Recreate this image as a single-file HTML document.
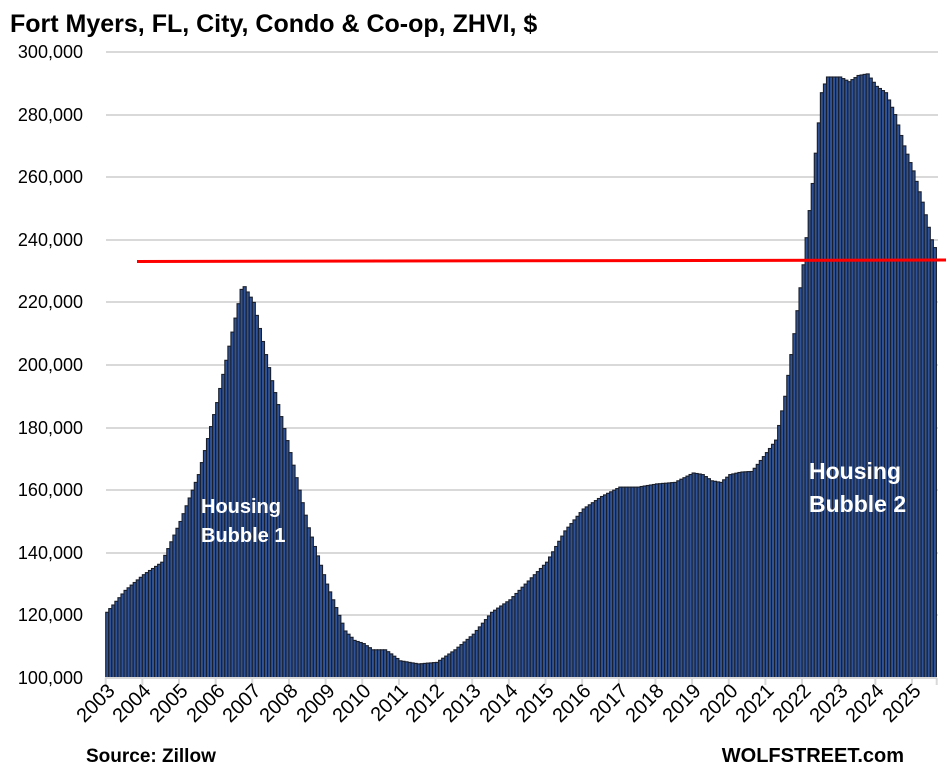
<!DOCTYPE html>
<html><head><meta charset="utf-8"><style>
html,body{margin:0;padding:0;background:#fff;}
svg{display:block;font-family:"Liberation Sans",Arial,sans-serif;}
</style></head><body>
<svg id="c" width="946" height="770" viewBox="0 0 946 770" xmlns="http://www.w3.org/2000/svg">
<rect width="946" height="770" fill="#fff"/>
<text x="10" y="32" font-size="25" font-weight="bold" fill="#000">Fort Myers, FL, City, Condo &amp; Co-op, ZHVI, $</text>
<g stroke="#d9d9d9" stroke-width="2">
<line x1="106" x2="938" y1="52" y2="52"/><line x1="106" x2="938" y1="115" y2="115"/>
<line x1="106" x2="938" y1="177" y2="177"/><line x1="106" x2="938" y1="240" y2="240"/>
<line x1="106" x2="938" y1="302" y2="302"/><line x1="106" x2="938" y1="365" y2="365"/>
<line x1="106" x2="938" y1="428" y2="428"/><line x1="106" x2="938" y1="490" y2="490"/>
<line x1="106" x2="938" y1="553" y2="553"/><line x1="106" x2="938" y1="615" y2="615"/>
</g>
<g font-size="18" text-anchor="end" fill="#000">
<text x="83" y="58">300,000</text><text x="83" y="121">280,000</text><text x="83" y="183">260,000</text>
<text x="83" y="246">240,000</text><text x="83" y="308">220,000</text><text x="83" y="371">200,000</text>
<text x="83" y="434">180,000</text><text x="83" y="496">160,000</text><text x="83" y="559">140,000</text>
<text x="83" y="621">120,000</text><text x="83" y="684">100,000</text>
</g>
<g id="bars"></g>
<line x1="105" x2="937" y1="678" y2="678" stroke="#d9d9d9" stroke-width="2"/>
<g id="ticks" stroke="#d9d9d9" stroke-width="2"></g>
<line x1="137" y1="261.5" x2="946" y2="260" stroke="#ff0000" stroke-width="3"/>
<g font-size="20" fill="#000" text-anchor="end">
<text transform="translate(116,692) rotate(-45)">2003</text>
<text transform="translate(152,692) rotate(-45)">2004</text>
<text transform="translate(189,692) rotate(-45)">2005</text>
<text transform="translate(226,692) rotate(-45)">2006</text>
<text transform="translate(262,692) rotate(-45)">2007</text>
<text transform="translate(299,692) rotate(-45)">2008</text>
<text transform="translate(336,692) rotate(-45)">2009</text>
<text transform="translate(372,692) rotate(-45)">2010</text>
<text transform="translate(409,692) rotate(-45)">2011</text>
<text transform="translate(445,692) rotate(-45)">2012</text>
<text transform="translate(482,692) rotate(-45)">2013</text>
<text transform="translate(519,692) rotate(-45)">2014</text>
<text transform="translate(555,692) rotate(-45)">2015</text>
<text transform="translate(592,692) rotate(-45)">2016</text>
<text transform="translate(629,692) rotate(-45)">2017</text>
<text transform="translate(665,692) rotate(-45)">2018</text>
<text transform="translate(702,692) rotate(-45)">2019</text>
<text transform="translate(739,692) rotate(-45)">2020</text>
<text transform="translate(775,692) rotate(-45)">2021</text>
<text transform="translate(812,692) rotate(-45)">2022</text>
<text transform="translate(849,692) rotate(-45)">2023</text>
<text transform="translate(885,692) rotate(-45)">2024</text>
<text transform="translate(922,692) rotate(-45)">2025</text>
</g>
<g font-size="20" font-weight="bold" fill="#fff">
<text x="201" y="513">Housing</text><text x="201" y="542">Bubble 1</text>
</g>
<g font-size="23" font-weight="bold" fill="#fff">
<text x="809" y="479">Housing</text><text x="809" y="512">Bubble 2</text>
</g>
<text x="86" y="762" font-size="19" font-weight="bold" fill="#000">Source: Zillow</text>
<text x="904" y="762" font-size="20" font-weight="bold" fill="#000" text-anchor="end">WOLFSTREET.com</text>
</svg>
<script>
var k=[[2003,121],[2003.5,128],[2004,133],[2004.5,137],[2005,150],[2005.5,165],[2006,188],[2006.5,215],[2006.7,226],[2007,220],[2007.5,195],[2008,172],[2008.5,148],[2009,130],[2009.5,115],[2009.75,112],[2010,111],[2010.25,109],[2010.6,109],[2011,105.5],[2011.25,105],[2011.5,104.5],[2012,105],[2012.5,109],[2013,114],[2013.5,121],[2014,125],[2014.5,131],[2015,137],[2015.5,147],[2016,154],[2016.5,158],[2017,161],[2017.5,161],[2018,162],[2018.5,162.5],[2019,165.5],[2019.25,165],[2019.5,163],[2019.75,162.5],[2020,165],[2020.3,165.8],[2020.6,166],[2021,172],[2021.25,176],[2021.5,190],[2021.75,210],[2022,232],[2022.25,258],[2022.5,287],[2022.65,292],[2023,292],[2023.25,290.5],[2023.5,292.5],[2023.75,293],[2024,289],[2024.25,287],[2024.5,280],[2024.75,270],[2025,262],[2025.25,252],[2025.5,240],[2025.6,237]];
function val(t){for(var i=0;i<k.length-1;i++){if(t<=k[i+1][0]){var a=k[i],b=k[i+1];return a[1]+(b[1]-a[1])*(t-a[0])/(b[0]-a[0]);}}return k[k.length-1][1];}
var g=document.getElementById("bars"),w=36.65/12,h="";
for(var m=0;m<272;m++){var v=val(2003+m/12),x=105.7+m*w,y=678-(v-100)*3.13;
h+='<rect x="'+x.toFixed(2)+'" y="'+y.toFixed(1)+'" width="'+w.toFixed(2)+'" height="'+(678-y).toFixed(1)+'" fill="#2f5396" stroke="#1a1f2b" stroke-width="1.1"/>';}
g.innerHTML=h;
var t="";for(var j=0;j<=23;j++){var xx=105.7+j*36.65;if(j==23)xx=936.7;t+='<line x1="'+xx+'" x2="'+xx+'" y1="678" y2="685"/>';}
document.getElementById("ticks").innerHTML=t;
</script>
</body></html>
